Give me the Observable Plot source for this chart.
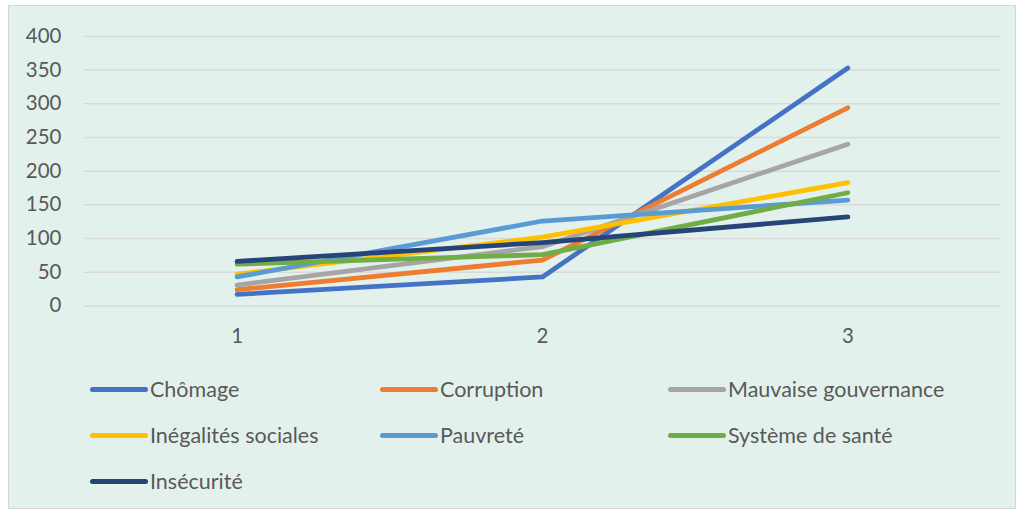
<!DOCTYPE html>
<html>
<head>
<meta charset="utf-8">
<script src="https://cdn.jsdelivr.net/npm/d3@7"></script>
<script src="https://cdn.jsdelivr.net/npm/@observablehq/plot@0.6"></script>
<style>
  html, body { margin: 0; padding: 0; background: #ffffff; }
  #frame {
    position: absolute; left: 8px; top: 5px; width: 1008px; height: 504px;
    background: #e3f1ec; border: 1px solid #d6d6d6; box-sizing: border-box;
    font-family: Lato, "Open Sans", sans-serif; color: #595959;
  }
  #chart { position: absolute; left: 0; top: 0; }
  #legend {
    position: absolute; left: 81px; top: 360px; width: 920px;
    display: grid; grid-template-columns: 290px 288px 330px; grid-auto-rows: 46px;
  }
  .item { display: flex; align-items: center; font-size: 21.5px; color: #595959; height: 46px; white-space: nowrap; }
  .sw { width: 58px; height: 5px; border-radius: 3px; margin-right: 2px; flex: none; }
</style>
</head>
<body>
<div id="frame">
  <div id="chart"></div>
  <div id="legend"></div>
</div>
<script>
const categories = [1, 2, 3];
const series = ["Chômage", "Corruption", "Mauvaise gouvernance", "Inégalités sociales", "Pauvreté", "Système de santé", "Insécurité"];
const colors = ["#4472C4", "#ED7D31", "#A5A5A5", "#FFC000", "#5B9BD5", "#70AD47", "#264478"];
const chomage = [17, 43, 353];
const corruption = [24, 68, 294];
const gouvernance = [31, 88, 240];
const inegalites = [47, 102, 183];
const pauvrete = [43, 126, 157];
const sante = [62, 76, 168];
const insecurite = [66, 94, 132];
const yTicks = [0, 50, 100, 150, 200, 250, 300, 350, 400];

const values = [chomage, corruption, gouvernance, inegalites, pauvrete, sante, insecurite];
const data = [];
series.forEach((s, i) => categories.forEach((c, j) => data.push({series: s, x: c, y: values[i][j]})));

const plot = Plot.plot({
  width: 1008, height: 350,
  marginTop: 30, marginBottom: 50, marginLeft: 75, marginRight: 15,
  style: {background: "transparent", fontFamily: "Lato, 'Open Sans', sans-serif", fontSize: "20.5px", color: "#595959"},
  x: {type: "point", domain: categories, padding: 0.5, label: null, tickSize: 0, tickPadding: 23},
  y: {domain: [0, 400], ticks: yTicks, label: null, tickSize: 0, tickPadding: 23},
  color: {domain: series, range: colors},
  marks: [
    Plot.ruleY(yTicks, {stroke: "#d9d9d9", strokeWidth: 1.5}),
    Plot.axisX({tickSize: 0, tickPadding: 23, fill: "#595959"}),
    Plot.axisY({ticks: yTicks, tickSize: 0, tickPadding: 23, fill: "#595959"}),
    Plot.line(data, {x: "x", y: "y", z: "series", stroke: "series", strokeWidth: 4.8, strokeLinecap: "round", strokeLinejoin: "round"})
  ]
});
document.getElementById("chart").appendChild(plot);

const legend = document.getElementById("legend");
series.forEach((s, i) => {
  const it = document.createElement("div");
  it.className = "item";
  const sw = document.createElement("span");
  sw.className = "sw";
  sw.style.background = colors[i];
  it.appendChild(sw);
  it.appendChild(document.createTextNode(s));
  legend.appendChild(it);
});
</script>
</body>
</html>
